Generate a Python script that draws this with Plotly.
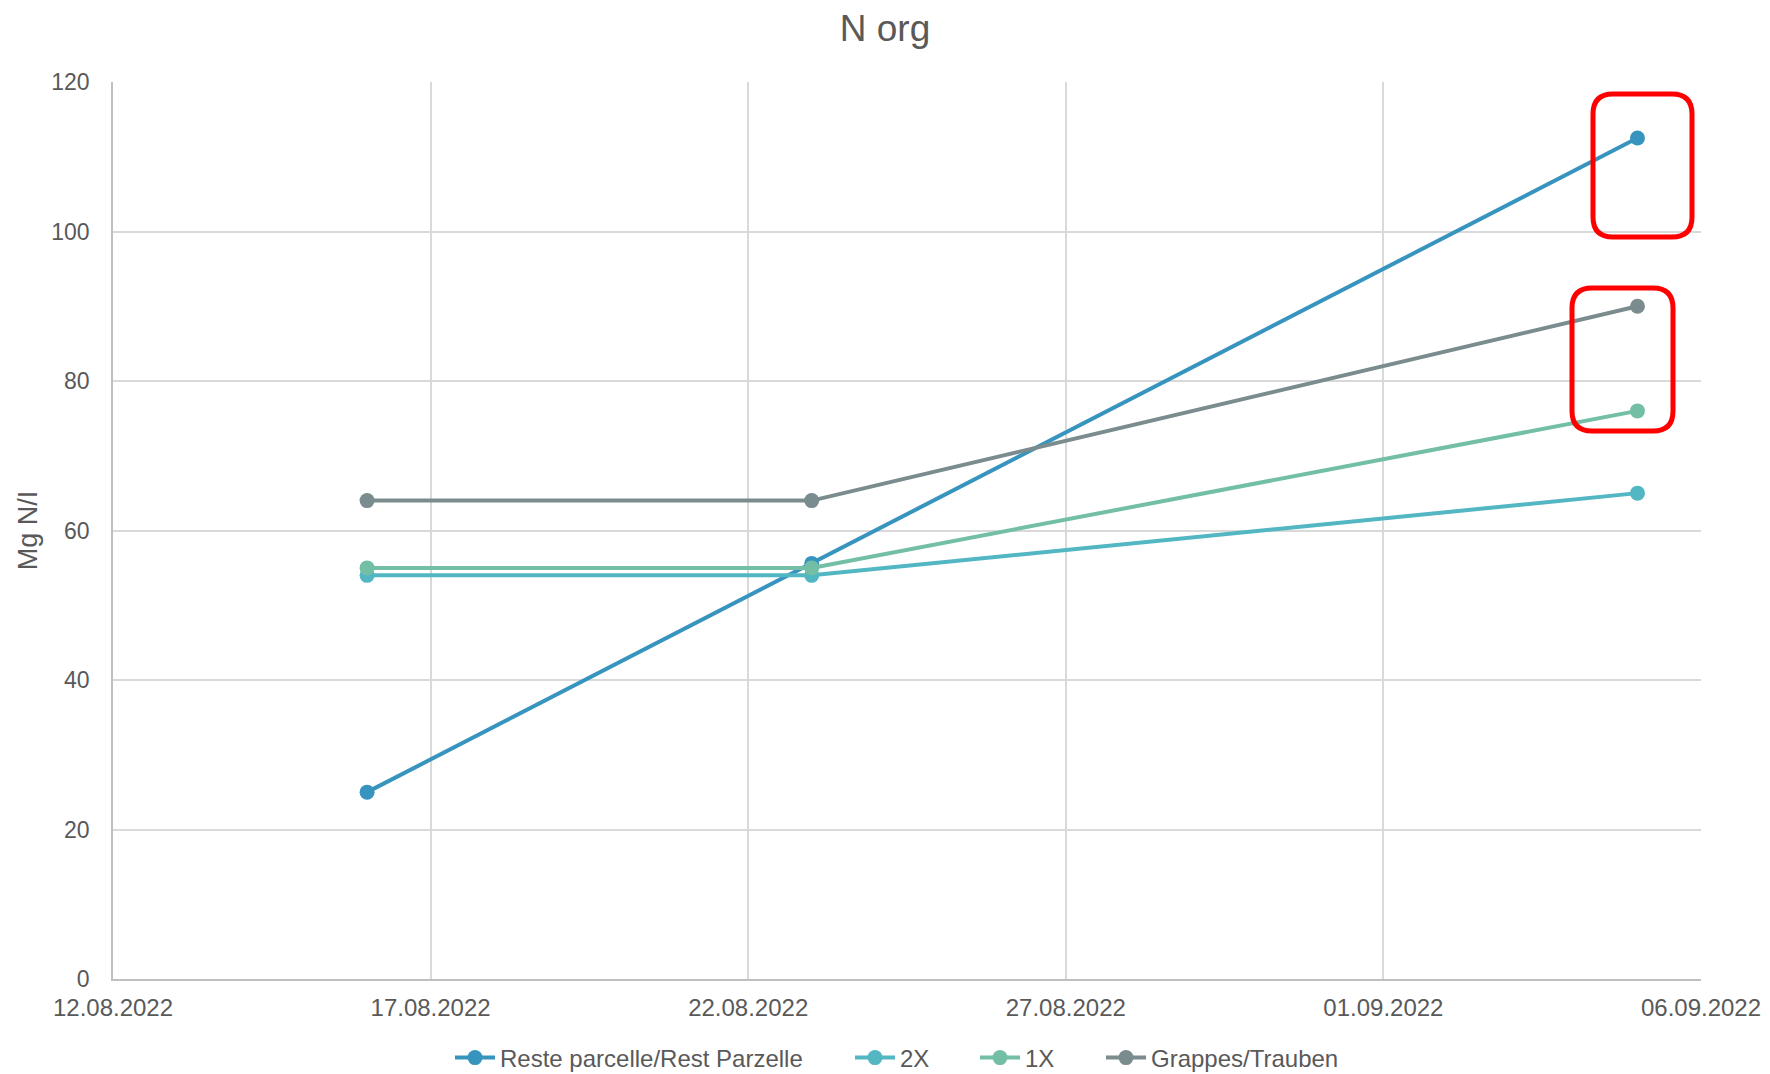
import plotly.graph_objects as go

# ---- data ----
dates = ["2022-08-16", "2022-08-23", "2022-09-05"]
reste = [25, 55.6, 112.5]
x2 = [54, 54, 65]
x1 = [55, 55, 76]
grappes = [64, 64, 90]

series_names = ["Reste parcelle/Rest Parzelle", "2X", "1X", "Grappes/Trauben"]
series_values = [reste, x2, x1, grappes]
series_colors = ["#3794BE", "#53B6C3", "#72BFA5", "#7B8C8E"]

y_ticks = [0, 20, 40, 60, 80, 100, 120]

W, H = 1770, 1074
L, R, T, B = 113, 69, 82, 95
FONT = "Liberation Sans, Arial, sans-serif"
GREY = "#595959"

pw, ph = W - L - R, H - T - B


def px2paper(px, py):
    return (px - L) / pw, (H - B - py) / ph


legend_names = ["legend", "legend2", "legend3", "legend4"]
legend_text_x = [500, 900, 1025, 1151]   # where each legend text starts (px)
legend_y_px = 1058

fig = go.Figure()
for name, vals, col, lg in zip(series_names, series_values, series_colors, legend_names):
    fig.add_trace(go.Scatter(
        x=dates, y=vals, name=name, mode="lines+markers",
        line=dict(color=col, width=4),
        marker=dict(color=col, size=15),
        legend=lg,
    ))


def rounded_path(x0p, y0p, x1p, y1p, r=20):
    ax, ay = px2paper(x0p, y1p)  # bottom-left
    bx, by = px2paper(x1p, y0p)  # top-right
    rx, ry = r / pw, r / ph
    return (f"M {ax+rx},{ay} L {bx-rx},{ay} Q {bx},{ay} {bx},{ay+ry} "
            f"L {bx},{by-ry} Q {bx},{by} {bx-rx},{by} L {ax+rx},{by} "
            f"Q {ax},{by} {ax},{by-ry} L {ax},{ay+ry} Q {ax},{ay} {ax+rx},{ay} Z")


boxes = [(1593, 94, 1692, 237), (1572, 288, 1673, 431)]
shapes = [dict(type="path", xref="paper", yref="paper",
               path=rounded_path(*b), line=dict(color="#FF0000", width=5),
               fillcolor="rgba(0,0,0,0)") for b in boxes]

layout_legends = {}
for lg, tx in zip(legend_names, legend_text_x):
    layout_legends[lg] = dict(orientation="h", xref="container", yref="container",
                              x=(tx - 50) / W, xanchor="left",
                              y=1 - legend_y_px / H, yanchor="middle",
                              font=dict(size=24, color=GREY), itemwidth=40,
                              bgcolor="rgba(0,0,0,0)")

fig.update_layout(
    width=W, height=H,
    margin=dict(l=L, r=R, t=T, b=B, autoexpand=False),
    paper_bgcolor="white", plot_bgcolor="white",
    font=dict(family=FONT, color=GREY, size=23),
    title=dict(text="N org", x=885 / W, xanchor="center", xref="container",
               y=1 - 28 / H, yanchor="middle", yref="container",
               font=dict(size=37, color=GREY)),
    showlegend=True,
    shapes=shapes,
    **layout_legends,
)
fig.update_xaxes(
    type="date", range=["2022-08-12", "2022-09-06"],
    tick0="2022-08-12", dtick=5 * 24 * 3600 * 1000, tickformat="%d.%m.%Y",
    showgrid=True, gridcolor="#D9D9D9", gridwidth=1.5,
    showline=True, linecolor="#BFBFBF", linewidth=1.5,
    ticks="outside", ticklen=6, tickcolor="rgba(0,0,0,0)",
    tickfont=dict(size=24, color=GREY), zeroline=False,
)
fig.update_yaxes(
    range=[0, 120], tickvals=y_ticks,
    showgrid=True, gridcolor="#D9D9D9", gridwidth=1.5,
    showline=True, linecolor="#BFBFBF", linewidth=1.5,
    ticks="outside", ticklen=17, tickcolor="rgba(0,0,0,0)",
    tickfont=dict(size=23, color=GREY), zeroline=False,
    title=dict(text="Mg N/I", standoff=6, font=dict(size=27, color=GREY)),
)

fig.write_html(
    "out.html",
    config={"displayModeBar": False},
    post_script="document.body.style.margin='0';document.body.style.overflow='hidden';",
)
